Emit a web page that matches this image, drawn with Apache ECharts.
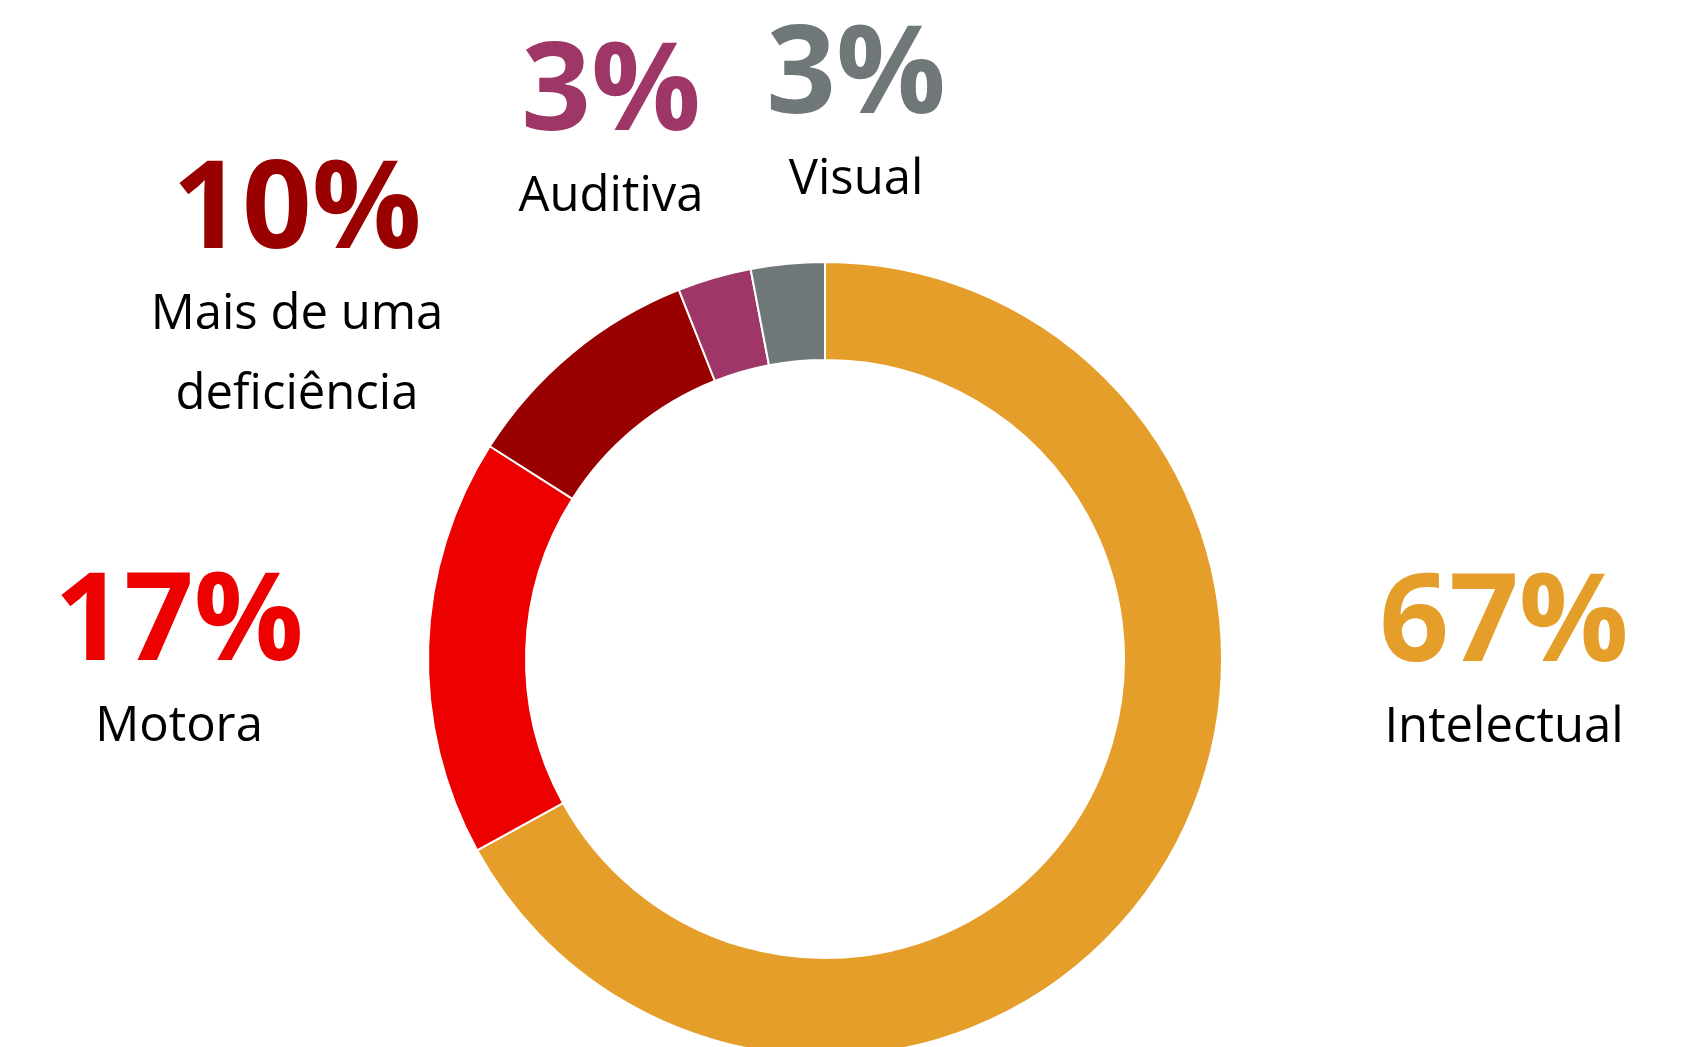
<!DOCTYPE html>
<html>
<head>
<meta charset="utf-8">
<script src="https://cdn.jsdelivr.net/npm/echarts@6/dist/echarts.min.js"></script>
<style>
html,body{margin:0;padding:0;background:#fff;}
#chart{width:1681px;height:1047px;}
</style>
</head>
<body>
<div id="chart"></div>
<script>
const categories = ['Intelectual', 'Motora', 'Mais de uma\ndeficiência', 'Auditiva', 'Visual'];
const values = [67, 17, 10, 3, 3];
const colors = ['#E59E2A', '#EC0000', '#990000', '#9E3667', '#6F7779'];
// label anchor (center x, top y) per slice
const labelPos = [[1504, 564], [179, 563], [297, 151], [611, 33], [856, 16]];

const chart = echarts.init(document.getElementById('chart'));
const FONT = '"Open Sans", "Noto Sans", sans-serif';
chart.setOption({
  animation: false,
  backgroundColor: '#fff',
  series: [{
    type: 'pie',
    center: [825, 659],
    radius: [299, 397],
    startAngle: 90,
    clockwise: true,
    silent: true,
    itemStyle: { borderColor: '#fff', borderWidth: 2 },
    labelLine: { show: false },
    label: {
      show: true,
      position: 'outside',
      fontFamily: FONT,
      formatter: function (p) {
        const lines = p.name.split('\n').map(function (s) { return '{n|' + s + '}'; });
        return '{p' + p.dataIndex + '|' + p.value + '%}\n' + lines.join('\n');
      },
      rich: (function () {
        const r = { n: { fontFamily: FONT, fontSize: 49, color: '#000', lineHeight: 80 } };
        colors.forEach(function (c, i) {
          r['p' + i] = { fontFamily: FONT, fontSize: 122, fontWeight: 'bold', color: c, lineHeight: 124 };
        });
        return r;
      })()
    },
    labelLayout: function (params) {
      const p = labelPos[params.dataIndex];
      return { x: p[0], y: p[1], align: 'center', verticalAlign: 'top' };
    },
    data: categories.map(function (name, i) {
      return { name: name, value: values[i], itemStyle: { color: colors[i] } };
    })
  }]
});
</script>
</body>
</html>
